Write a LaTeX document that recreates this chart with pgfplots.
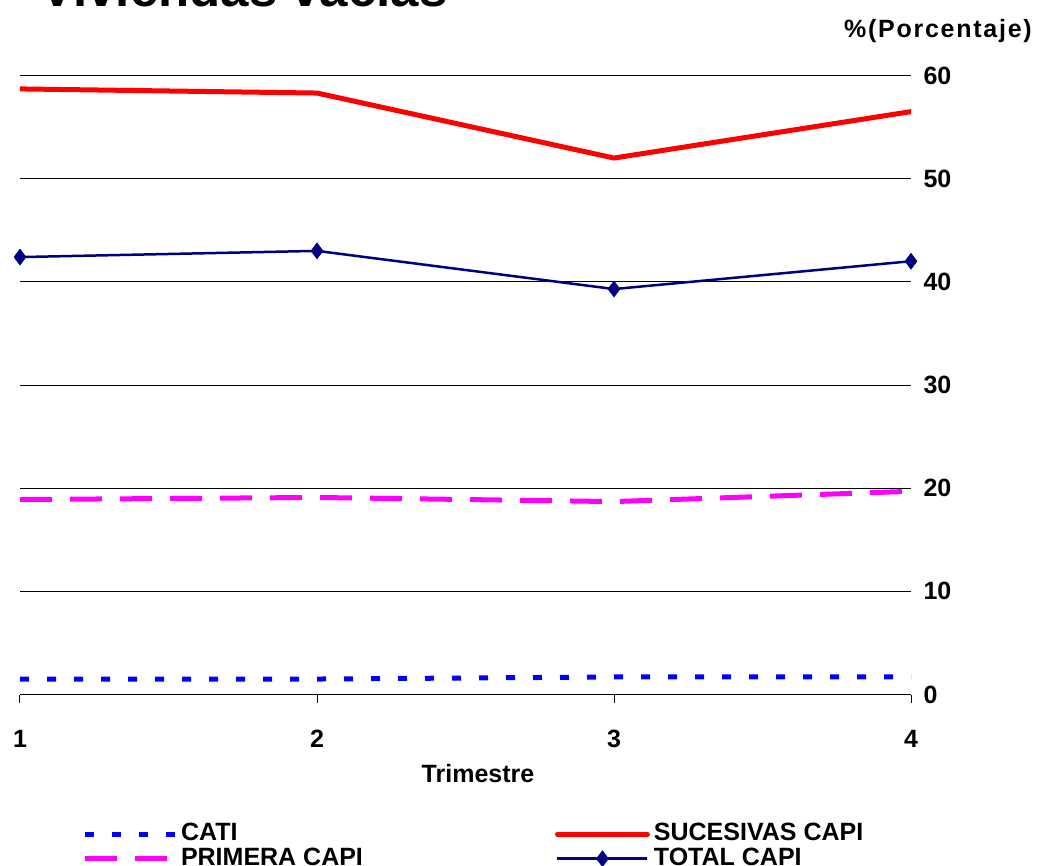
\documentclass[border=0pt]{standalone}
\usepackage{fontspec}
\setmainfont{Liberation Sans}
\usepackage{pgfplots}
\pgfplotsset{compat=1.18}
\definecolor{cati}{RGB}{0,0,255}
\definecolor{suc}{RGB}{255,0,0}
\definecolor{prim}{RGB}{255,0,255}
\definecolor{tot}{RGB}{0,0,128}
\newcommand{\bigf}{\bfseries\fontsize{25}{30}\selectfont}
\begin{document}
\begin{tikzpicture}
\useasboundingbox (0pt,0pt) rectangle (1043pt,-865pt);
\node[anchor=base west, inner sep=0pt, font=\bfseries\fontsize{51}{51}\selectfont] at (40pt,-6pt) {Viviendas vacías};
\node[anchor=east, inner sep=0pt, font=\bigf] at (1032pt,-31pt) {\addfontfeature{LetterSpace=7}\%(Porcentaje)};
\begin{axis}[
  at={(20pt,-694.5pt)}, anchor=south west,
  width=891pt, height=619pt, scale only axis,
  xmin=1, xmax=4, ymin=0, ymax=60,
  separate axis lines,
  axis x line*=bottom,
  axis y line*=right,
  y axis line style={draw=none},
  x axis line style={black, line width=1pt, -},
  xtick={1,2,3,4},
  ytick={0,10,20,30,40,50,60},
  xtick align=outside,
  major x tick style={black, line width=1pt},
  major y tick style={draw=none},
  major tick length=8pt,
  ymajorgrids,
  grid style={black, line width=1pt},
  /pgf/number format/assume math mode=true,
  ticklabel style={font=\bigf},
  xticklabel style={yshift=-24pt},
  yticklabel style={xshift=9pt},
  xlabel={Trimestre},
  xlabel style={font=\bigf, at={(axis description cs:0.514,0)}, anchor=center, yshift=-79pt},
  legend columns=2,
  legend cell align=left,
  legend style={draw=none, fill=none, inner sep=0pt, outer sep=0pt,
    at={(axis description cs:0.0696,-0.207)}, anchor=north west,
    font=\bigf, row sep=1.5pt,
    nodes={inner xsep=4pt, inner ysep=0pt, text height=18pt, text depth=5pt},
    /tikz/every even column/.append style={column sep=188pt}},
  legend image code/.code={\draw[mark repeat=2, mark phase=2, #1] plot coordinates {(0pt,0pt) (45pt,0pt) (90pt,0pt)};},
]
\addplot[cati, line width=5pt, dash pattern=on 9pt off 18pt, line cap=butt] coordinates {(1,1.5) (2,1.5) (3,1.7) (4,1.7)};
\addlegendentry{CATI}
\addplot[suc, line width=5pt, line cap=round] coordinates {(1,58.7) (2,58.3) (3,52.0) (4,56.5)};
\addlegendentry{SUCESIVAS CAPI}
\addplot[prim, line width=5pt, dash pattern=on 32pt off 18pt, line cap=butt] coordinates {(1,18.9) (2,19.1) (3,18.7) (4,19.7)};
\addlegendentry{PRIMERA CAPI}
\addplot[tot, line width=2.5pt, mark=diamond*, mark size=8pt, mark options={solid, line width=0.5pt}] coordinates {(1,42.4) (2,43.0) (3,39.3) (4,42.0)};
\addlegendentry{TOTAL CAPI}
\end{axis}
\end{tikzpicture}
\end{document}
